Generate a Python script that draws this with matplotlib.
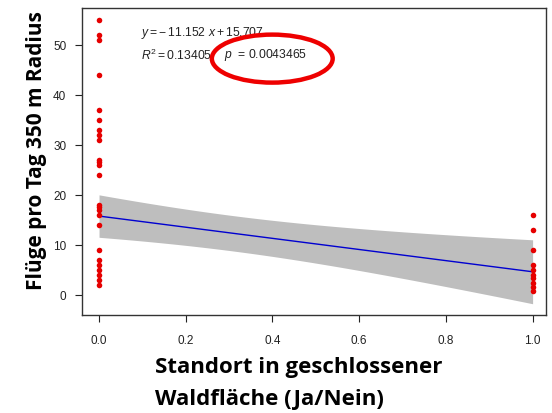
import numpy as np
import matplotlib
matplotlib.use("Agg")
import matplotlib.pyplot as plt
from matplotlib.patches import Ellipse

# ---- data ----
y_at_0 = [55, 52, 51, 44, 37, 35, 33, 32, 31, 27, 26.5, 26, 24,
          18, 17.5, 17, 16, 14, 9, 7, 6, 5, 4, 3, 2]
y_at_1 = [16, 13, 9, 6, 5, 4, 3.3, 2.3, 1.5, 0.7]
intercept = 15.707
slope = -11.152
half_width_0 = 4.25   # CI half width at x = 0
half_width_1 = 6.4    # CI half width at x = 1
eq_text = r"$y = -\,11.152\ x + 15.707$"
r2_text = r"$R^{2} = 0.13405,$"
p_text = r"$p\ $ = 0.0043465"
xticks = [0.0, 0.2, 0.4, 0.6, 0.8, 1.0]
xticklabels = ["0.0", "0.2", "0.4", "0.6", "0.8", "1.0"]
yticks = [0, 10, 20, 30, 40, 50]
ylabel = "Flüge pro Tag 350 m Radius"
xlabel1 = "Standort in geschlossener"
xlabel2 = "Waldfläche (Ja/Nein)"

plt.rcParams['mathtext.fontset'] = 'custom'
plt.rcParams['mathtext.rm'] = 'Liberation Sans'
plt.rcParams['mathtext.it'] = 'Liberation Sans:italic'
plt.rcParams['font.family'] = ['Liberation Sans', 'DejaVu Sans']

fig = plt.figure(figsize=(5.52, 4.14), dpi=100)
ax = fig.add_axes([0.148, 0.2367, 0.842, 0.7408])

xs = np.linspace(0, 1, 200)
fit = intercept + slope * xs
hw = np.sqrt((1 - xs) ** 2 * half_width_0 ** 2 + xs ** 2 * half_width_1 ** 2)
ax.fill_between(xs, fit - hw, fit + hw, color='#bebebe', lw=0, zorder=1)
ax.plot(xs, fit, color='#0000d0', lw=1.0, zorder=2)

ax.scatter(np.zeros(len(y_at_0)), y_at_0, s=16, color='#e60000', lw=0, zorder=3)
ax.scatter(np.ones(len(y_at_1)), y_at_1, s=16, color='#e60000', lw=0, zorder=3)

ax.set_xlim(-0.04, 1.032)
ax.set_ylim(-4.1, 57.3)
ax.set_xticks(xticks)
ax.set_xticklabels(xticklabels)
ax.set_yticks(yticks)
ax.tick_params(axis='x', direction='out', length=5, width=0.8, pad=9,
               labelsize=8.5, colors='#222222')
ax.tick_params(axis='y', direction='out', length=5, width=0.8, pad=6,
               labelsize=8.5, colors='#222222')
for s in ax.spines.values():
    s.set_color('#333333')
    s.set_linewidth(1.0)

ax.text(0.1275, 0.922, eq_text, transform=ax.transAxes, fontsize=8.7,
        va='center', ha='left', color='#222222', zorder=4)
ax.text(0.1275, 0.851, r2_text, transform=ax.transAxes, fontsize=8.7,
        va='center', ha='left', color='#222222', zorder=4)
ax.text(0.307, 0.851, p_text, transform=ax.transAxes, fontsize=8.7,
        va='center', ha='left', color='#222222', zorder=4)
ax.add_patch(Ellipse((0.41, 0.836), 0.26, 0.1565, transform=ax.transAxes,
                     fill=False, edgecolor='#ee0000', lw=3.2, zorder=5))

fig.text(0.067, 1 - 151 / 414, ylabel, rotation=90, ha='center', va='center',
         fontsize=15, fontweight='bold', family=['Open Sans', 'DejaVu Sans'])
fig.text(155 / 552, 1 - 368 / 414, xlabel1, ha='left', va='center',
         fontsize=16, fontweight='bold', family=['Open Sans', 'DejaVu Sans'])
fig.text(155 / 552, 1 - 400 / 414, xlabel2, ha='left', va='center',
         fontsize=16, fontweight='bold', family=['Open Sans', 'DejaVu Sans'])

fig.savefig("out.png", dpi=100)
